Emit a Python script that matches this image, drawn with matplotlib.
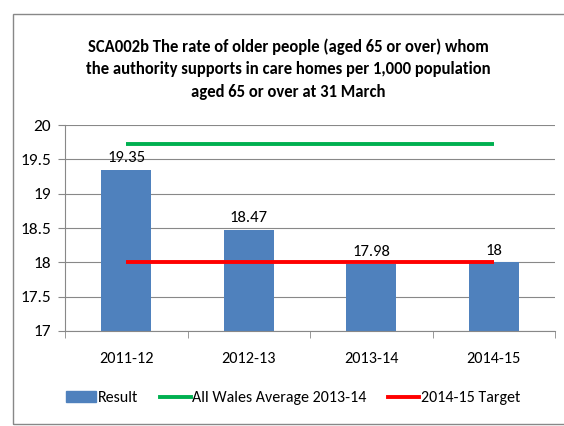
import matplotlib
matplotlib.use("Agg")
import matplotlib.pyplot as plt
from matplotlib.patches import Rectangle, Patch
from matplotlib.lines import Line2D

categories = ["2011-12", "2012-13", "2013-14", "2014-15"]
result = [19.35, 18.47, 17.98, 18.0]
result_labels = ["19.35", "18.47", "17.98", "18"]
wales_avg = [19.72, 19.72, 19.72, 19.72]
target = [18.0, 18.0, 18.0, 18.0]
yticks = [17, 17.5, 18, 18.5, 19, 19.5, 20]
ytick_labels = ["17", "17.5", "18", "18.5", "19", "19.5", "20"]

FONT = ["Carlito", "DejaVu Sans"]
plt.rcParams['font.family'] = FONT

W, H = 564, 426
fig = plt.figure(figsize=(W / 100, H / 100), dpi=100)

fig.patches.append(Rectangle((13 / W, 2 / H), (W + 5) / W, (H - 16) / H,
                             transform=fig.transFigure, fill=False,
                             edgecolor="#888888", linewidth=1.0))

ax = fig.add_axes([65 / W, (H - 331) / H, 490 / W, 206 / H])
x = list(range(len(categories)))
ax.bar(x, result, width=0.41, color="#4F81BD", zorder=2)
ax.plot(x, wales_avg, color="#00B050", linewidth=2.8, zorder=3, solid_capstyle="butt")
ax.plot(x, target, color="#FF0000", linewidth=2.8, zorder=3, solid_capstyle="butt")

for xi, v, lab in zip(x, result, result_labels):
    ax.text(xi, v + 0.07, lab, ha="center", va="bottom", fontsize=12, color="#000000")

ax.set_xlim(-0.5, len(categories) - 0.5)
ax.set_ylim(17, 20)
ax.set_yticks(yticks)
ax.set_yticklabels(ytick_labels, fontsize=12.5)
ax.set_xticks(x)
ax.set_xticklabels(categories, fontsize=11.7)
ax.set_xticks([i - 0.5 for i in range(len(categories) + 1)], minor=True)
ax.tick_params(axis="x", which="major", length=0, pad=15)
ax.tick_params(axis="x", which="minor", length=5, color="#888888")
ax.tick_params(axis="y", length=5, color="#888888", pad=5)
ax.grid(axis="y", color="#888888", linewidth=0.8, zorder=0)
for s in ["top", "right"]:
    ax.spines[s].set_visible(False)
ax.spines["left"].set_color("#888888")
ax.spines["bottom"].set_color("#888888")

fig.text(288 / W, 1 - 69 / H,
         "SCA002b The rate of older people (aged 65 or over) whom\n"
         "the authority supports in care homes per 1,000 population\n"
         "aged 65 or over at 31 March",
         ha="center", va="center", fontsize=12, fontweight="bold", linespacing=1.5)

handles = [Patch(color="#4F81BD"),
           Line2D([], [], color="#00B050", linewidth=2.8),
           Line2D([], [], color="#FF0000", linewidth=2.8)]
labels = ["Result", "All Wales Average 2013-14", "2014-15 Target"]
fig.legend(handles, labels, loc="center", bbox_to_anchor=(293 / W, 1 - 398 / H),
           ncol=3, frameon=False, fontsize=11.5, handlelength=1.9,
           handletextpad=0.12, columnspacing=1.35, borderpad=0, borderaxespad=0)

fig.savefig("out.png", dpi=100)
